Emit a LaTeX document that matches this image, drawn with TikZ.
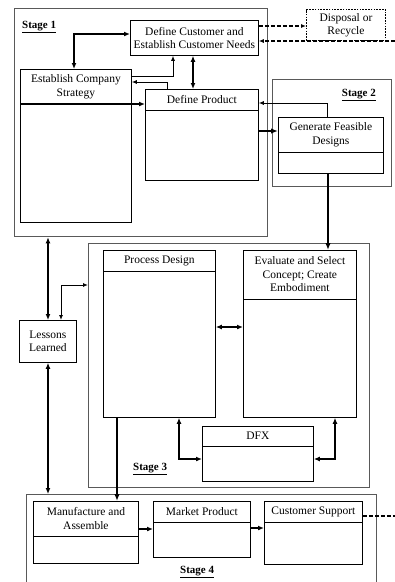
\documentclass[tikz,border=0pt]{standalone}
\usepackage{fontspec}
\setmainfont{Liberation Serif}
\usetikzlibrary{arrows.meta,calc}

\tikzset{
  x=1pt, y=-1pt,
  box/.style={draw=black, line width=0.8pt, inner sep=0pt, anchor=north west},
  divider/.style={draw=black, line width=0.8pt},
  stagebox/.style={draw=black!65, line width=1.3pt, inner sep=0pt, anchor=north west},
  dotbox/.style={draw=black, line width=1pt, dash pattern=on 1.6pt off 1.2pt, inner sep=0pt, anchor=north west},
  boxtext/.style={align=center, font=\fontsize{11.5}{13.5}\selectfont, inner sep=0pt},
  stagelabel/.style={font=\fontsize{11}{12}\selectfont\bfseries, inner sep=0pt},
  thinarr/.style={line width=0.9pt, >={Latex[length=5pt,width=4pt]}},
  medarr/.style={line width=1.6pt, >={Latex[length=6pt,width=5pt]}},
  thickarr/.style={line width=2.6pt, >={Latex[length=7pt,width=5.5pt]}},
  dasharr/.style={line width=1.2pt, dash pattern=on 4pt off 2pt, >={Latex[length=5pt,width=4pt]}},
}

% box with a header strip: name, x, y, width, height, header height, text
\newcommand\headbox[7]{%
  \node[box, minimum width=#4pt, minimum height=#5pt] (#1) at (#2,#3) {};
  \draw[divider] ([yshift=-#6pt]#1.north west) -- ([yshift=-#6pt]#1.north east);
  \node[boxtext] (#1-t) at ($(#1.north)+(0,#6/2)$) {#7};
}

\begin{document}
\begin{tikzpicture}
\useasboundingbox (0,0) rectangle (395,582);
\clip (0,0) rectangle (395,582);

% stage frames
\node[stagebox, minimum width=253pt, minimum height=228pt] (s1) at (14,8) {};
\node[stagebox, minimum width=119pt, minimum height=107pt] (s2) at (272,79) {};
\node[stagebox, minimum width=281pt, minimum height=244pt] (s3) at (88,243) {};
\node[stagebox, minimum width=350pt, minimum height=110pt] (s4) at (26,494) {};

\node[stagelabel, anchor=west] (s1-l) at (22,27) {\underline{Stage 1}};
\node[stagelabel, anchor=east] (s2-l) at (376,95) {\underline{Stage 2}};
\node[stagelabel, anchor=west] (s3-l) at (133,469) {\underline{Stage 3}};
\node[stagelabel, anchor=west] (s4-l) at (180,572) {\underline{Stage 4}};

% stage 1
\node[box, minimum width=128pt, minimum height=35pt] (dc) at (130,20) {};
\node[boxtext] (dc-t) at (dc.center) {Define Customer and\\Establish Customer Needs};
\node[dotbox, minimum width=79pt, minimum height=31pt] (dr) at (306,9) {};
\node[boxtext] (dr-t) at (dr.center) {Disposal or\\Recycle};
\headbox{ecs}{20}{69}{111}{153}{35}{Establish Company\\Strategy}
\headbox{dp}{145}{89}{113}{91}{21}{Define Product}

% stage 2
\headbox{gfd}{278}{117}{105}{56}{35}{Generate Feasible\\Designs}

% stage 3
\headbox{pd}{103}{250}{112}{167}{21}{Process Design}
\headbox{ev}{243}{250}{113}{167}{49}{Evaluate and Select\\Concept; Create\\Embodiment}
\headbox{dfx}{202}{426}{111}{55}{20}{DFX}

% lessons learned
\node[box, minimum width=57pt, minimum height=42pt] (ll) at (19,320) {};
\node[boxtext] (ll-t) at (ll.center) {Lessons\\Learned};

% stage 4
\headbox{mf}{33}{501}{105}{62}{35}{Manufacture and\\Assemble}
\headbox{mp}{153}{501}{97}{56}{21}{Market Product}
\headbox{cs}{264}{501}{98}{63}{21}{Customer Support}

\coordinate (loopin) at (395,41);
\coordinate (loopout) at (395,516);

% connectors within stage 1
\draw[medarr, <->] ([xshift=54pt]ecs.north west) |- ([yshift=-14pt]dc.north west);
\draw[thinarr, ->] ([yshift=-7pt]ecs.north east) -| ([xshift=43pt]dc.south west);
\draw[thinarr, ->] ([xshift=22pt]dp.north west) |- ([yshift=-13pt]ecs.north east);
\draw[medarr, <->] ([xshift=63pt]dc.south west) -- ([xshift=48pt]dp.north west);
\draw[medarr, ->] ([yshift=-35pt]ecs.north west) -- ([yshift=-15pt]dp.north west);

% disposal loop
\draw[dasharr, ->] ([yshift=-6pt]dc.north east) -- ([yshift=-17pt]dr.north west);
\draw[dasharr, ->] (loopin) -- ([yshift=-21pt]dc.north east);
\draw[dasharr] ([yshift=-15pt]cs.north east) -- (loopout);

% stage 1 <-> stage 2 <-> stage 3
\draw[thinarr, ->] ([xshift=49pt]gfd.north west) |- ([yshift=-14pt]dp.north east);
\draw[thickarr, ->] ([yshift=-42pt]dp.north east) -- ([yshift=-14pt]gfd.north west);
\draw[thickarr, ->] ([xshift=50pt]gfd.south west) -- ([xshift=85pt]ev.north west);

% lessons learned
\draw[medarr, <->] ([xshift=34pt]s1.south west) -- ([xshift=29pt]ll.north west);
\draw[thinarr, <->] ([xshift=42pt]ll.north west) |- ([yshift=-42pt]s3.north west);
\draw[medarr, <->] ([xshift=29pt]ll.south west) -- ([xshift=22pt]s4.north west);

% stage 3
\draw[medarr, <->] ([yshift=-77pt]pd.north east) -- ([yshift=-77pt]ev.north west);
\draw[medarr, <->] ([xshift=76pt]pd.south west) |- ([yshift=-33pt]dfx.north west);
\draw[medarr, <->] ([xshift=92pt]ev.south west) |- ([yshift=-33pt]dfx.north east);
\draw[thickarr, ->] ([xshift=14pt]pd.south west) -- ([xshift=84pt]mf.north west);

% stage 4
\draw[medarr, ->] ([yshift=-28pt]mf.north east) -- ([yshift=-28pt]mp.north west);
\draw[medarr, ->] ([yshift=-27pt]mp.north east) -- ([yshift=-27pt]cs.north west);
\end{tikzpicture}
\end{document}
